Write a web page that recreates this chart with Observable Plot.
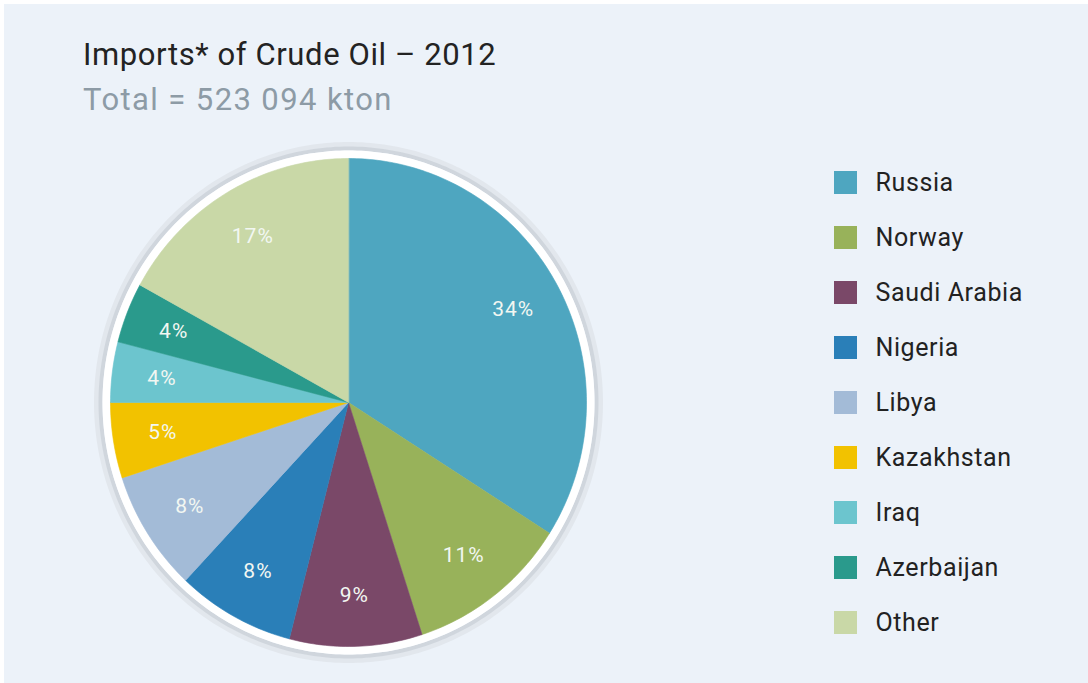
<!DOCTYPE html>
<html>
<head>
<meta charset="utf-8">
<script src="https://cdn.jsdelivr.net/npm/d3@7"></script>
<script src="https://cdn.jsdelivr.net/npm/@observablehq/plot@0.6"></script>
<style>
  html, body { margin: 0; padding: 0; background: #ffffff; }
  #page { position: relative; width: 1088px; height: 683px; overflow: hidden; background: #ffffff; }
  #panel { position: absolute; left: 4px; top: 4px; right: 0; bottom: 0; background: #ecf2f9; }
  .title { position: absolute; left: 83px; font-family: Roboto, "Noto Sans", sans-serif; font-size: 31px; line-height: 31px; white-space: nowrap; }
  #t1 { top: 39px; color: #232323; letter-spacing: 0.6px; }
  #t2 { top: 84px; color: #8d9ba6; letter-spacing: 1.4px; }
  #pie { position: absolute; left: 78px; top: 132px; }
  #legend { position: absolute; left: 820px; top: 148px; }
</style>
</head>
<body>
<div id="page">
  <div id="panel"></div>
  <div class="title" id="t1">Imports* of Crude Oil – 2012</div>
  <div class="title" id="t2">Total = 523 094 kton</div>
  <div id="pie"></div>
  <div id="legend"></div>
</div>
<script>
// ---- data ----
const countries = ["Russia", "Norway", "Saudi Arabia", "Nigeria", "Libya", "Kazakhstan", "Iraq", "Azerbaijan", "Other"];
const shares = [34, 11, 9, 8, 8, 5, 4, 4, 17];
const colors = ["#4ea6c0", "#98b25a", "#7a4868", "#2a7fb8", "#a3bbd7", "#f2c200", "#6cc5ce", "#2a9a8c", "#c9d8a7"];

// ---- build slice outlines from the shares ----
const arcs = d3.pie().sort(null).startAngle(0).endAngle(2 * Math.PI)(shares);
const slicePts = [];
const labelPts = [];
arcs.forEach((a, i) => {
  const name = countries[i];
  slicePts.push({name, x: 0, y: 0});
  const n = Math.max(2, Math.ceil((a.endAngle - a.startAngle) / (Math.PI / 180)));
  for (let k = 0; k <= n; ++k) {
    const t = a.startAngle + (a.endAngle - a.startAngle) * k / n;
    slicePts.push({name, x: Math.sin(t), y: Math.cos(t)});
  }
  const m = (a.startAngle + a.endAngle) / 2;
  labelPts.push({name, label: shares[i] + "%", x: 0.79 * Math.sin(m), y: 0.79 * Math.cos(m)});
});
const ringPts = d3.range(0, 361).map(d => ({a: d * Math.PI / 180}));

const RX = 238, RY = 244, half = 270;
const colorScale = {domain: countries, range: colors};
const ring = (off, opts) => Plot.line(ringPts, {
  x: d => Math.sin(d.a) * (1 + off / RX),
  y: d => Math.cos(d.a) * (1 + off / RY),
  curve: "linear-closed", ...opts
});

const pie = Plot.plot({
  width: 2 * half, height: 2 * half,
  margin: 0,
  style: {background: "transparent", overflow: "visible"},
  x: {domain: [-half / RX, half / RX], axis: null},
  y: {domain: [-half / RY, half / RY], axis: null},
  color: colorScale,
  marks: [
    ring(14, {stroke: "#e2e7ed", strokeWidth: 5}),
    ring(10, {stroke: "#d0d6dd", strokeWidth: 4}),
    ring(4, {stroke: "white", strokeWidth: 8}),
    Plot.line(slicePts, {x: "x", y: "y", z: "name", fill: "name", stroke: "name", strokeWidth: 0.6, curve: "linear-closed"}),
    Plot.text(labelPts, {x: "x", y: "y", text: "label", fill: "#f2f7f2", fontSize: 21, fontFamily: "Roboto, sans-serif"})
  ]
});
pie.querySelectorAll("text").forEach(t => t.style.letterSpacing = "1px");
document.getElementById("pie").appendChild(pie);

const legend = Plot.plot({
  width: 260, height: 510,
  margin: 0,
  style: {background: "transparent", overflow: "visible"},
  x: {axis: null},
  y: {type: "point", domain: countries, range: [32, 32 + 8 * 55.6], padding: 0, axis: null},
  color: colorScale,
  marks: [
    Plot.dot(countries, {y: d => d, fill: d => d, symbol: "square", r: 13, frameAnchor: "left", dx: 25}),
    Plot.text(countries, {y: d => d, text: d => d, frameAnchor: "left", dx: 55, textAnchor: "start", fontSize: 25, fill: "#222", fontFamily: "Roboto, sans-serif"})
  ]
});
legend.querySelectorAll("text").forEach(t => t.style.letterSpacing = "0.6px");
document.getElementById("legend").appendChild(legend);
</script>
</body>
</html>
